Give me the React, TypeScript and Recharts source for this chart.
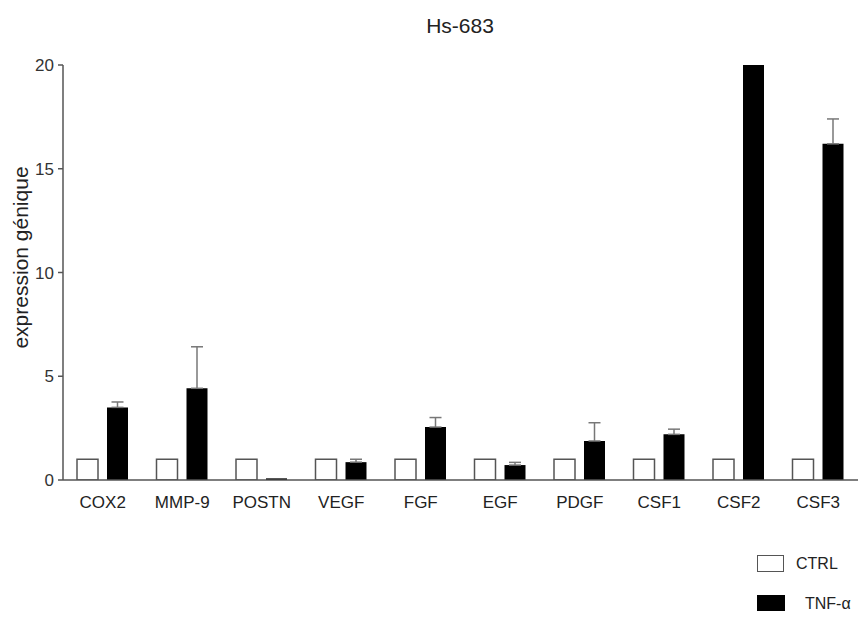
import React from 'react';
import { BarChart, Bar, XAxis, YAxis, ErrorBar, Legend } from 'recharts';

const categories = ['COX2', 'MMP-9', 'POSTN', 'VEGF', 'FGF', 'EGF', 'PDGF', 'CSF1', 'CSF2', 'CSF3'];
const ctrlValues = [1, 1, 1, 1, 1, 1, 1, 1, 1, 1];
const tnfValues = [3.5, 4.42, 0.08, 0.86, 2.55, 0.72, 1.88, 2.2, 20, 16.2];
const tnfErrors: (number | null)[] = [0.26, 2.0, null, 0.14, 0.46, 0.13, 0.88, 0.25, null, 1.2];
const yTicks = [0, 5, 10, 15, 20];

const data = categories.map((c, i) => ({
  name: c,
  ctrl: ctrlValues[i],
  tnf: tnfValues[i],
  tnfErr: tnfErrors[i] == null ? undefined : [0, tnfErrors[i]],
}));

const FONT = '"Liberation Sans", Arial, sans-serif';

const renderLegend = () => (
  <div style={{ fontFamily: FONT, fontSize: 16, color: '#222', lineHeight: '17px' }}>
    <div style={{ display: 'flex', alignItems: 'center', height: 17 }}>
      <div style={{ width: 25, height: 15, border: '1.5px solid #555', background: '#fff' }} />
      <span style={{ marginLeft: 12 }}>CTRL</span>
    </div>
    <div style={{ display: 'flex', alignItems: 'center', height: 17, marginTop: 23 }}>
      <div style={{ width: 28, height: 17, background: '#000' }} />
      <span style={{ marginLeft: 20 }}>TNF-α</span>
    </div>
  </div>
);

export default function App() {
  return (
    <div style={{ margin: -8, position: 'relative', width: 866, height: 619, background: '#fff', overflow: 'hidden' }}>
      <div
        style={{
          position: 'absolute',
          left: 60,
          width: 800,
          top: 15,
          textAlign: 'center',
          fontFamily: FONT,
          fontSize: 21,
          lineHeight: '22px',
          color: '#222',
        }}
      >
        Hs-683
      </div>
      <BarChart
        width={866}
        height={619}
        data={data}
        margin={{ top: 65, right: 8, bottom: 99, left: 13 }}
        barSize={21}
        barGap={9}
      >
        <XAxis
          dataKey="name"
          tickLine={false}
          axisLine={{ stroke: '#555', strokeWidth: 1.5 }}
          tick={{ fontFamily: FONT, fontSize: 17, fill: '#222' }}
          tickSize={6}
          tickMargin={10}
          height={40}
        />
        <YAxis
          domain={[0, 20]}
          ticks={yTicks}
          width={50}
          tickSize={5}
          tickMargin={4}
          axisLine={{ stroke: '#555', strokeWidth: 1.5 }}
          tickLine={{ stroke: '#555', strokeWidth: 1.5 }}
          tick={{ fontFamily: FONT, fontSize: 17, fill: '#333' }}
          allowDataOverflow
          label={{
            value: 'expression génique',
            angle: -90,
            position: 'center',
            dx: -17,
            dy: -15,
            style: { fontFamily: FONT, fontSize: 21, fill: '#222', textAnchor: 'middle' },
          }}
        />
        <Legend
          layout="vertical"
          align="center"
          verticalAlign="middle"
          content={renderLegend}
          wrapperStyle={{ position: 'absolute', left: 757, top: 555, width: 110, bottom: 'auto', right: 'auto' }}
        />
        <Bar dataKey="ctrl" name="CTRL" fill="#fff" stroke="#555" strokeWidth={1.5} isAnimationActive={false} />
        <Bar dataKey="tnf" name="TNF-α" fill="#000" isAnimationActive={false}>
          <ErrorBar dataKey="tnfErr" width={6} stroke="#777" strokeWidth={1.5} direction="y" />
        </Bar>
      </BarChart>
    </div>
  );
}
